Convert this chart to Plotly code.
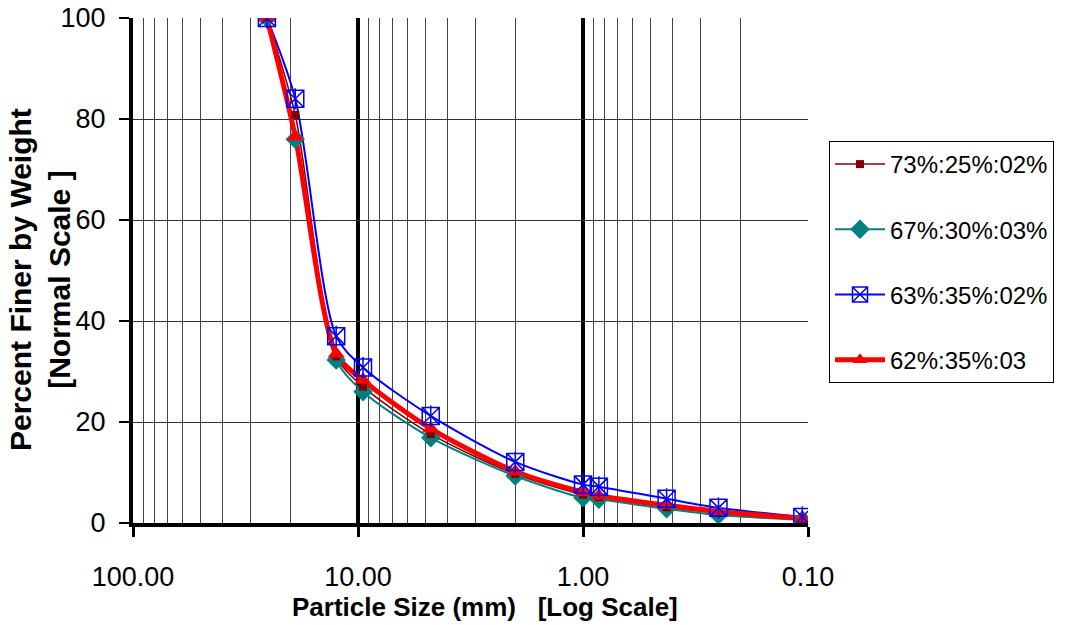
import plotly.graph_objects as go

# Sieve opening sizes (mm) and percent passing for each blend
sizes = [25.4, 19.0, 12.5, 9.5, 4.75, 2.0, 1.0, 0.85, 0.425, 0.25, 0.106]
blend_73 = [100, 80.8, 33.0, 27.0, 17.6, 9.7, 5.6, 5.1, 3.1, 2.0, 0.8]
blend_67 = [100, 76.0, 32.3, 26.0, 16.9, 9.3, 5.0, 4.7, 2.8, 1.6, 0.6]
blend_63 = [100, 84.0, 37.0, 30.8, 21.2, 12.1, 7.6, 7.2, 4.8, 3.0, 1.2]
blend_62 = [100, 76.5, 33.5, 28.3, 18.7, 10.2, 6.1, 5.4, 3.5, 2.3, 0.9]

names = ["73%:25%:02%", "67%:30%:03%", "63%:35%:02%", "62%:35%:03"]
series = [blend_73, blend_67, blend_63, blend_62]
colors = ["#800000", "#008080", "#0000ff", "#ff0000"]
widths = [1.5, 2, 2, 5]

major_ticks = [100, 10, 1, 0.1]
major_text = ["100.00", "10.00", "1.00", "0.10"]
minor_ticks = [m * d for d in (10, 1, 0.1) for m in range(2, 10)]

FONT = "Liberation Sans, Arial, sans-serif"

fig = go.Figure()

# smoothed curves first, so every marker sits above every line
for name, ys, c, w in zip(names, series, colors, widths):
    fig.add_trace(go.Scatter(x=sizes, y=ys, mode="lines", showlegend=False,
                             line=dict(color=c, width=w, shape="spline", smoothing=0.8),
                             hoverinfo="skip"))

# markers
fig.add_trace(go.Scatter(x=sizes, y=blend_67, mode="markers", showlegend=False,
                         marker=dict(symbol="diamond", size=15, color=colors[1])))
fig.add_trace(go.Scatter(x=sizes, y=blend_73, mode="markers", showlegend=False,
                         marker=dict(symbol="square", size=8, color=colors[0])))
fig.add_trace(go.Scatter(x=sizes, y=blend_62, mode="markers", showlegend=False,
                         marker=dict(symbol="triangle-up", size=15, color=colors[3])))
fig.add_trace(go.Scatter(x=sizes, y=blend_63, mode="markers", showlegend=False,
                         marker=dict(symbol="square-x-open", size=17, color=colors[2],
                                     line=dict(width=1.5))))
fig.add_trace(go.Scatter(x=sizes, y=blend_63, mode="markers", showlegend=False,
                         marker=dict(symbol="line-ns-open", size=15, color=colors[2],
                                     line=dict(width=1.5))))

# legend entries
legend_markers = [
    dict(symbol="square", size=8, color=colors[0]),
    dict(symbol="diamond", size=15, color=colors[1]),
    dict(symbol="square-x-open", size=15, color=colors[2], line=dict(width=1.5)),
    dict(symbol="triangle-up", size=13, color=colors[3]),
]
for i, (name, c, w, mk) in enumerate(zip(names, colors, widths, legend_markers)):
    fig.add_trace(go.Scatter(x=[None], y=[None], mode="lines+markers", name=name,
                             legendgroup=f"g{i}",
                             line=dict(color=c, width=w), marker=mk))

fig.update_layout(
    width=1068, height=625,
    margin=dict(l=133, r=260, t=18, b=102, autoexpand=False),
    paper_bgcolor="white", plot_bgcolor="white",
    font=dict(family=FONT, color="black", size=24),
    legend=dict(x=(829 - 133) / 675, y=(523 - 141) / 505, xanchor="left", yanchor="top",
                bordercolor="black", borderwidth=1, bgcolor="white",
                font=dict(family=FONT, size=24), tracegroupgap=31,
                traceorder="grouped", itemwidth=50),
    xaxis=dict(type="log", range=[2, -1], tickvals=major_ticks, ticktext=major_text,
               showgrid=True, gridcolor="black", gridwidth=4,
               showline=True, linecolor="black", linewidth=4,
               ticks="outside", ticklen=10, tickwidth=3, tickcolor="black",
               ticklabelstandoff=17, zeroline=False,
               tickfont=dict(family=FONT, size=27)),
    yaxis=dict(range=[0, 100], tickvals=[0, 20, 40, 60, 80, 100],
               showgrid=True, gridcolor="#333333", gridwidth=1,
               showline=True, linecolor="black", linewidth=4,
               ticks="outside", ticklen=10, tickwidth=2, tickcolor="black",
               ticklabelstandoff=8, zeroline=False,
               tickfont=dict(family=FONT, size=27)),
    annotations=[
        dict(text="<b>Particle Size (mm)\u00a0\u00a0\u00a0[Log Scale]</b>",
             xref="paper", yref="paper", x=(485 - 133) / 675, y=-(607 - 523) / 505,
             xanchor="center", yanchor="middle", showarrow=False,
             font=dict(family=FONT, size=26)),
        dict(text="<b>Percent Finer by Weight<br>[Normal Scale ]</b>",
             xref="paper", yref="paper", x=-(133 - 40) / 675, y=(523 - 280) / 505,
             xanchor="center", yanchor="middle", showarrow=False, textangle=-90,
             font=dict(family=FONT, size=30)),
    ],
)
fig.update_xaxes(minor=dict(tickvals=minor_ticks, showgrid=True, gridcolor="#444444",
                            gridwidth=1, ticks=""))

fig.write_html("out.html")
